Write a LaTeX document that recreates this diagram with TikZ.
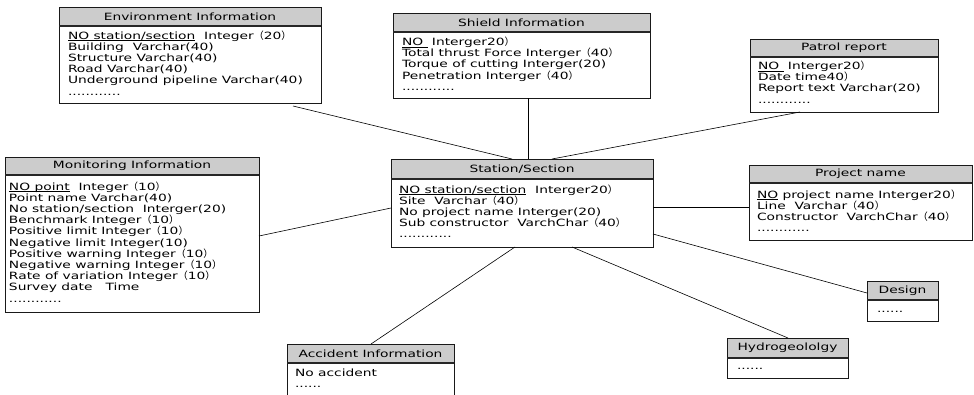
\documentclass[tikz,border=0pt]{standalone}
\usepackage{fontspec}
\setmainfont{DejaVu Sans}
\newfontfamily\erfont[FakeStretch=1.38]{DejaVu Sans}
\newfontfamily\cjkfont{Noto Sans CJK SC}
\newcommand\zkl{{\cjkfont （}}
\newcommand\zkr{{\cjkfont ）}}
\newcommand\eru[1]{\leavevmode\setbox0\hbox{#1}\rlap{\rule[-1.8pt]{\wd0}{0.7pt}}\box0\relax}
\newcommand\ertext[1]{\parbox[t]{300pt}{\raggedright\lineskiplimit=-20pt\lineskip=0pt #1}}
\usetikzlibrary{calc}
\begin{document}
\begin{tikzpicture}[x=1pt,y=-1pt,
  every node/.style={font=\erfont\fontsize{10}{11.2}\selectfont, text=black},
  ebox/.style={draw=black!90, line width=0.8pt, fill=white, anchor=north west, inner sep=0pt, outer sep=0pt},
  ehdr/.style={draw=black!90, line width=0.8pt, fill=black!20, anchor=north west, inner sep=0pt, outer sep=0pt},
  etext/.style={anchor=base west, inner sep=0pt, outer sep=0pt},
  hsep/.style={line width=1.3pt, draw=black!85},
  link/.style={line width=0.6pt, draw=black}]
\useasboundingbox (0,0) rectangle (974,394);
\clip (0,0) rectangle (974,394);

% Environment Information
\node[ebox, minimum width=262pt, minimum height=96pt] (env) at (59,7) {};
\node[ehdr, minimum width=262pt, minimum height=19pt] (envh) at (env.north west) {Environment Information};
\draw[hsep] (envh.south west) -- (envh.south east);
\node[etext] (envt) at ([xshift=9pt,yshift=-13pt]envh.south west) {\ertext{%
\eru{NO station/section}\ \ Integer\zkl20\zkr\\
Building\ \ Varchar(40)\\
Structure Varchar(40)\\
Road Varchar(40)\\
Underground pipeline Varchar(40)\\
............}};

% Shield Information
\node[ebox, minimum width=257pt, minimum height=85pt] (sh) at (393,13) {};
\node[ehdr, minimum width=257pt, minimum height=19pt] (shh) at (sh.north west) {Shield Information};
\draw[hsep] (shh.south west) -- (shh.south east);
\node[etext] (sht) at ([xshift=9pt,yshift=-13.5pt]shh.south west) {\ertext{%
\eru{NO\ }\ Interger20\zkr\\
Total thrust Force Interger\zkl40\zkr\\
Torque of cutting Interger(20)\\
Penetration Interger\zkl40\zkr\\
............}};

% Patrol report
\node[ebox, minimum width=188pt, minimum height=73pt] (pr) at (750,39) {};
\node[ehdr, minimum width=188pt, minimum height=18pt] (prh) at (pr.north west) {Patrol report};
\draw[hsep] (prh.south west) -- (prh.south east);
\node[etext] (prt) at ([xshift=8pt,yshift=-12.5pt]prh.south west) {\ertext{%
\eru{NO\ }\ Interger20\zkr\\
Date time40\zkr\\
Report text Varchar(20)\\
............}};

% Station/Section
\node[ebox, minimum width=262pt, minimum height=88pt] (st) at (391,159) {};
\node[ehdr, minimum width=262pt, minimum height=20pt] (sth) at (st.north west) {Station/Section};
\draw[hsep] (sth.south west) -- (sth.south east);
\node[etext] (stt) at ([xshift=8pt,yshift=-14pt]sth.south west) {\ertext{%
\eru{NO station/section}\ \ Interger20\zkr\\
Site\ \ Varchar\zkl40\zkr\\
No project name Interger(20)\\
Sub constructor\ \ VarchChar\zkl40\zkr\\
............}};

% Monitoring Information
\node[ebox, minimum width=254pt, minimum height=155pt] (mon) at (5,157) {};
\node[ehdr, minimum width=254pt, minimum height=18pt] (monh) at (mon.north west) {Monitoring Information};
\draw[hsep] (monh.south west) -- (monh.south east);
\node[etext] (mont) at ([xshift=4pt,yshift=-15pt]monh.south west) {\ertext{%
\eru{NO point}\ \ Integer\zkl10\zkr\\
Point name Varchar(40)\\
No station/section\ \ Interger(20)\\
Benchmark Integer\zkl10\zkr\\
Positive limit Integer\zkl10\zkr\\
Negative limit Integer(10)\\
Positive warning Integer\zkl10\zkr\\
Negative warning Integer\zkl10\zkr\\
Rate of variation Integer\zkl10\zkr\\
Survey date\ \ \ Time\\
............}};

% Project name
\node[ebox, minimum width=223pt, minimum height=75pt] (pj) at (749,165) {};
\node[ehdr, minimum width=223pt, minimum height=18pt] (pjh) at (pj.north west) {Project name};
\draw[hsep] (pjh.south west) -- (pjh.south east);
\node[etext] (pjt) at ([xshift=8pt,yshift=-15pt]pjh.south west) {\ertext{%
\eru{NO} project name Interger20\zkr\\
Line\ \ Varchar\zkl40\zkr\\
Constructor\ \ VarchChar\zkl40\zkr\\
............}};

% Design
\node[ebox, minimum width=71pt, minimum height=40pt] (de) at (867,281) {};
\node[ehdr, minimum width=71pt, minimum height=19pt] (deh) at (de.north west) {Design};
\draw[hsep] (deh.south west) -- (deh.south east);
\node[etext] (det) at ([xshift=10pt,yshift=-12pt]deh.south west) {\ertext{......}};

% Hydrogeololgy
\node[ebox, minimum width=121pt, minimum height=40pt] (hy) at (727,338) {};
\node[ehdr, minimum width=121pt, minimum height=20pt] (hyh) at (hy.north west) {Hydrogeololgy};
\draw[hsep] (hyh.south west) -- (hyh.south east);
\node[etext] (hyt) at ([xshift=10pt,yshift=-11pt]hyh.south west) {\ertext{......}};

% Accident Information
\node[ebox, minimum width=167pt, minimum height=70pt] (ac) at (287,344) {};
\node[ehdr, minimum width=167pt, minimum height=19pt] (ach) at (ac.north west) {Accident Information};
\draw[hsep] (ach.south west) -- (ach.south east);
\node[etext] (act) at ([xshift=8pt,yshift=-13pt]ach.south west) {\ertext{%
No accident\\
......}};

% connectors
\draw[link] ([xshift=-28pt,yshift=-3pt]env.south east) -- ([xshift=121pt]st.north west);
\draw[link] ([xshift=135pt]sh.south west) -- ([xshift=135pt]sh.south west |- st.north);
\draw[link] ([xshift=50pt]pr.south west) -- ([xshift=161pt]st.north west);
\draw[link] ([yshift=76pt]mon.south east) -- ([yshift=-49pt]st.north west);
\draw[link] ([yshift=-42pt]pj.north west) -- ([yshift=-42pt]pj.north west -| st.east);
\draw[link] ([yshift=13pt]st.south east) -- ([yshift=-12pt]de.north west);
\draw[link] ([xshift=181pt]st.south west) -- ([xshift=61pt]hy.north west);
\draw[link] ([xshift=124pt]st.south west) -- ([xshift=84pt]ac.north west);
\end{tikzpicture}
\end{document}
